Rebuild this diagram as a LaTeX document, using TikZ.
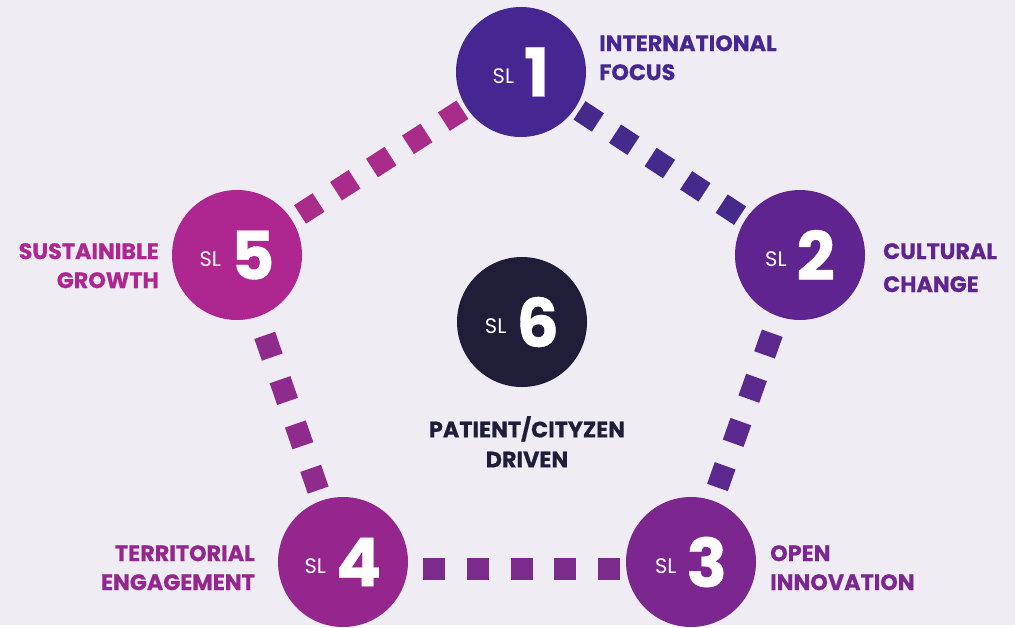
\documentclass[tikz,border=0pt]{standalone}
\usepackage{fontspec}
\setmainfont{Poppins}
\newfontfamily\heavyfont[FakeBold=0.6]{Poppins Bold}

\definecolor{bgcol}{HTML}{EFECF4}
\definecolor{slone}{HTML}{462690}
\definecolor{sltwo}{HTML}{5F2490}
\definecolor{slthree}{HTML}{7C2690}
\definecolor{slfour}{HTML}{94268E}
\definecolor{slfive}{HTML}{AE2690}
\definecolor{slsix}{HTML}{1F1D38}

% Content of one level circle
\newcommand{\slmark}[1]{\raisebox{13pt}{\fontsize{21}{21}\selectfont SL}\hspace{10pt}{\fontsize{67}{67}\heavyfont #1}}

\begin{document}
\begin{tikzpicture}[x=1pt,y=-1pt,
    lvl/.style={circle, minimum size=130pt, inner sep=0pt, outer sep=0pt, text=white},
    lbl/.style={inner sep=0pt, font=\heavyfont\fontsize{22.3}{29}\selectfont},
    dots/.style={line width=22pt, line cap=butt}]
    \fill[bgcol] (0,0) rectangle (1015,625);

    % Centres of the six levels
    \coordinate (P1) at (521,72);
    \coordinate (P2) at (800,255);
    \coordinate (P3) at (691,562);
    \coordinate (P4) at (343,562);
    \coordinate (P5) at (237,255);
    \coordinate (P6) at (522,322);

    % Draw the circles
    \node[lvl, fill=slone] (S1) at (P1) {\slmark{1}};
    \node[lvl, fill=sltwo] (S2) at (P2) {\slmark{2}};
    \node[lvl, fill=slthree] (S3) at (P3) {\slmark{3}};
    \node[lvl, fill=slfour] (S4) at (P4) {\slmark{4}};
    \node[lvl, fill=slfive] (S5) at (P5) {\slmark{5}};
    \node[lvl, fill=slsix] (S6) at (P6) {\slmark{6}};

    % Draw the square dots between the levels
    \draw[dots, color={rgb,255:red,169;green,44;blue,139}, dash pattern=on 22pt off 20.8pt, shorten <=10pt, shorten >=2pt] (S5) -- (S1);
    \draw[dots, color={rgb,255:red,69;green,41;blue,139}, dash pattern=on 22pt off 20.5pt, shorten <=5pt, shorten >=2pt] (S1) -- (S2);
    \draw[dots, color={rgb,255:red,91;green,40;blue,141}, dash pattern=on 23pt off 23.9pt, shorten <=18pt, shorten >=11pt] (S2) -- (S3);
    \draw[dots, color={rgb,255:red,142;green,43;blue,140}, dash pattern=on 23pt off 23.9pt, shorten <=20pt, shorten >=8pt] (S5) -- (S4);
    \draw[dots, color={rgb,255:red,122;green,43;blue,139}, dash pattern=on 22pt off 21.75pt, shorten <=15pt, shorten >=3pt] ([yshift=-7pt]S4.east) -- ([yshift=-7pt]S3.west);

    % Provide the names of the levels
    \node[lbl, text=slone, align=left, anchor=north west] (L1) at (599,35) {INTERNATIONAL\\FOCUS};
    \node[lbl, text=sltwo, align=left, anchor=north west, font=\heavyfont\fontsize{22.3}{33}\selectfont] (L2) at (883,243) {CULTURAL\\CHANGE};
    \node[lbl, text=slthree, align=left, anchor=north west] (L3) at (770,545) {OPEN\\INNOVATION};
    \node[lbl, text=slfour, align=right, anchor=north east] (L4) at (255,545) {TERRITORIAL\\ENGAGEMENT};
    \node[lbl, text=slfive, align=right, anchor=north east] (L5) at (159,243) {SUSTAINIBLE\\GROWTH};
    \node[lbl, text=slsix, align=center, anchor=north, font=\heavyfont\fontsize{22.3}{30}\selectfont] (L6) at (527,416) {PATIENT/CITYZEN\\DRIVEN};
\end{tikzpicture}
\end{document}
